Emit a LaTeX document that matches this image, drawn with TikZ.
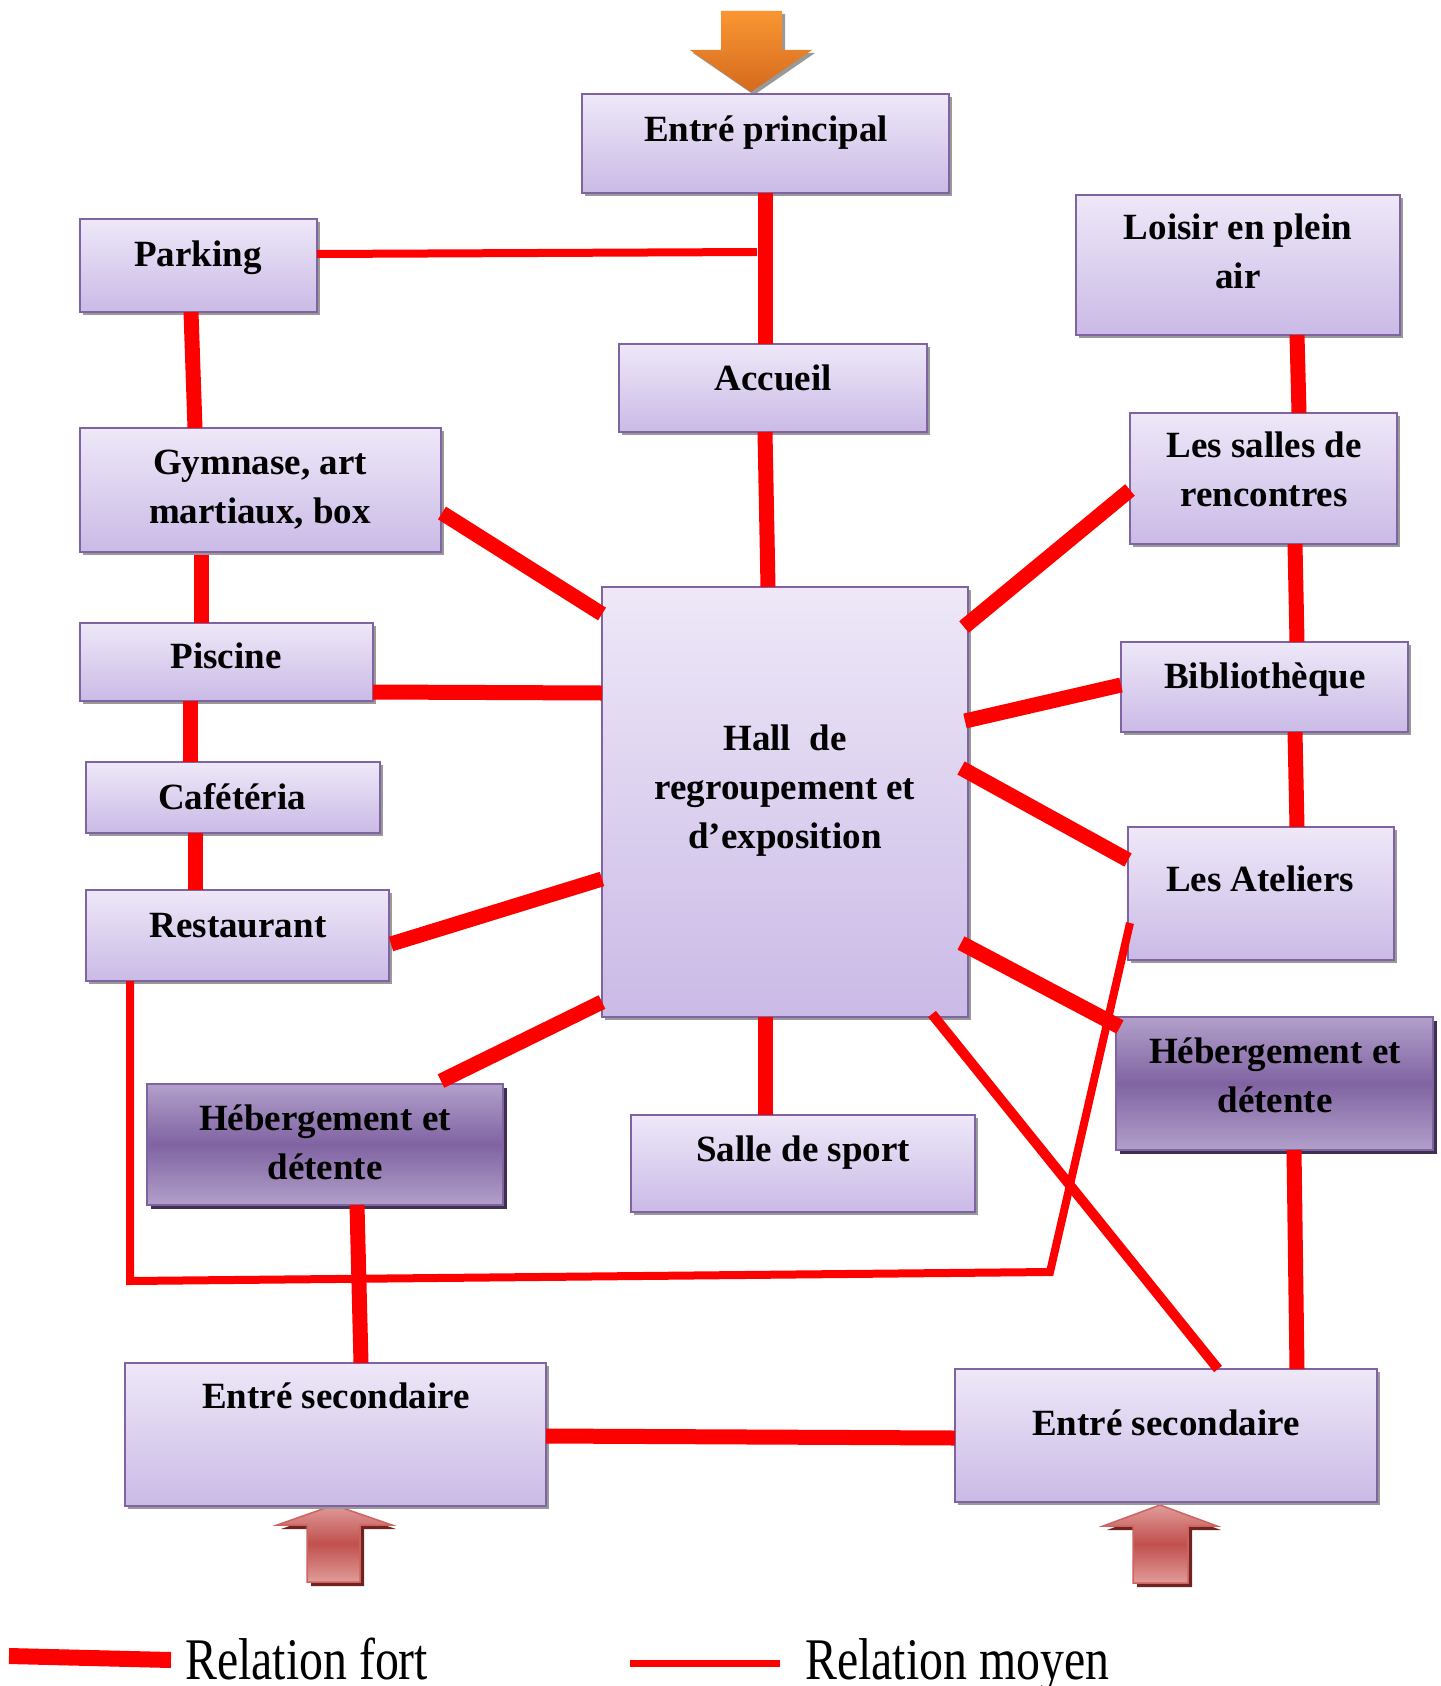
\documentclass[tikz,border=0pt]{standalone}
\usepackage{fontspec}
\usepackage{graphicx}
\setmainfont{Liberation Serif}
\usetikzlibrary{calc,shadows}

\definecolor{boxedge}{RGB}{128,100,162}
\definecolor{lilactop}{RGB}{238,232,248}
\definecolor{lilacbot}{RGB}{202,186,230}
\definecolor{plumlight}{RGB}{178,160,202}
\definecolor{plumdark}{RGB}{128,100,162}
\definecolor{plumshadow}{RGB}{64,49,82}
\definecolor{linkred}{RGB}{255,0,0}
\definecolor{orgtop}{RGB}{250,150,50}
\definecolor{orgbot}{RGB}{212,106,30}
\definecolor{arrlight}{RGB}{224,156,154}
\definecolor{arrmid}{RGB}{192,80,77}
\definecolor{arredge}{RGB}{208,98,95}
\definecolor{arrshadow}{RGB}{112,36,34}

\begin{document}
\begin{tikzpicture}[x=1pt,y=-1pt,
  lbox/.style={draw=boxedge, line width=2pt, top color=lilactop, bottom color=lilacbot,
    inner sep=0pt, outer sep=0pt, anchor=north west,
    drop shadow={shadow xshift=3pt, shadow yshift=-3pt, fill=black!40, opacity=1}},
  dbox/.style={draw=boxedge, line width=2pt, top color=plumlight, bottom color=plumlight,
    middle color=plumdark, inner sep=0pt, outer sep=0pt, anchor=north west,
    drop shadow={shadow xshift=4pt, shadow yshift=-4pt, fill=plumshadow, opacity=1}},
  lbl/.style={font=\fontsize{37}{49}\selectfont\bfseries, align=center, inner sep=0pt, anchor=north},
  legtxt/.style={font=\fontsize{59}{70}\selectfont, inner sep=0pt, anchor=base west},
  fort/.style={draw=linkred, line width=15pt},
  moyen/.style={draw=linkred, line width=8pt},
]
\useasboundingbox (0,0) rectangle (1440,1686);

% ---- arrows marking the entrances ----
\fill[black!40, shift={(3,3)}] (721,11) -- (782,11) -- (782,50) -- (812,50) -- (751,92) -- (690,50) -- (721,50) -- cycle;
\shade[top color=orgtop, bottom color=orgbot] (721,11) -- (782,11) -- (782,50) -- (812,50) -- (751,92) -- (690,50) -- (721,50) -- cycle;

\fill[arrshadow, shift={(4,4)}] (334,1505) -- (392,1525) -- (360,1525) -- (360,1582) -- (307,1582) -- (307,1525) -- (277,1525) -- cycle;
\shade[top color=arrlight, bottom color=arrlight, middle color=arrmid, draw=arredge, line width=1.5pt]
  (334,1505) -- (392,1525) -- (360,1525) -- (360,1582) -- (307,1582) -- (307,1525) -- (277,1525) -- cycle;

\fill[arrshadow, shift={(4,4)}] (1160,1505) -- (1217,1526) -- (1188,1526) -- (1188,1583) -- (1133,1583) -- (1133,1526) -- (1103,1526) -- cycle;
\shade[top color=arrlight, bottom color=arrlight, middle color=arrmid, draw=arredge, line width=1.5pt]
  (1160,1505) -- (1217,1526) -- (1188,1526) -- (1188,1583) -- (1133,1583) -- (1133,1526) -- (1103,1526) -- cycle;

% ---- boxes ----
\node[lbox, minimum width=367, minimum height=99]  (entree)   at (582,94)   {};
\node[lbox, minimum width=237, minimum height=93]  (parking)  at (80,219)   {};
\node[lbox, minimum width=308, minimum height=88]  (accueil)  at (619,344)  {};
\node[lbox, minimum width=324, minimum height=140] (loisir)   at (1076,195) {};
\node[lbox, minimum width=361, minimum height=124] (gym)      at (80,428)   {};
\node[lbox, minimum width=267, minimum height=131] (salles)   at (1130,413) {};
\node[lbox, minimum width=293, minimum height=78]  (piscine)  at (80,623)   {};
\node[lbox, minimum width=287, minimum height=90]  (biblio)   at (1121,642) {};
\node[lbox, minimum width=366, minimum height=430] (hall)     at (602,587)  {};
\node[lbox, minimum width=294, minimum height=71]  (cafe)     at (86,762)   {};
\node[lbox, minimum width=266, minimum height=133] (ateliers) at (1128,827) {};
\node[lbox, minimum width=303, minimum height=91]  (resto)    at (86,890)   {};
\node[dbox, minimum width=356, minimum height=121] (heba)     at (147,1084) {};
\node[dbox, minimum width=317, minimum height=133] (hebb)     at (1116,1017){};
\node[lbox, minimum width=344, minimum height=97]  (sport)    at (631,1115) {};
\node[lbox, minimum width=421, minimum height=143] (esa)      at (125,1363) {};
\node[lbox, minimum width=422, minimum height=133] (esb)      at (955,1369) {};

% ---- box labels ----
\node[lbl] (entree-t)   at (766,106.7)  {\strut Entré principal};
\node[lbl] (parking-t)  at (198,231.7)  {\strut Parking};
\node[lbl] (accueil-t)  at (773,355.7)  {\strut Accueil};
\node[lbl] (loisir-t)   at (1238,204.7) {\strut Loisir en plein\\air};
\node[lbl] (gym-t)      at (260,439.7)  {\strut Gymnase, art\\martiaux, box};
\node[lbl] (salles-t)   at (1264,422.7) {\strut Les salles de\\rencontres};
\node[lbl] (piscine-t)  at (226,633.7)  {\strut Piscine};
\node[lbl] (biblio-t)   at (1265,653.7) {\strut Bibliothèque};
\node[lbl] (hall-t)     at (785,715.7)  {\strut Hall~ de\\regroupement et\\d’exposition};
\node[lbl] (cafe-t)     at (232,774.7)  {\strut Cafétéria};
\node[lbl] (ateliers-t) at (1260,856.7) {\strut Les Ateliers};
\node[lbl] (resto-t)    at (238,902.7)  {\strut Restaurant};
\node[lbl] (heba-t)     at (325,1095.7) {\strut Hébergement et\\détente};
\node[lbl] (hebb-t)     at (1275,1028.7){\strut Hébergement et\\détente};
\node[lbl] (sport-t)    at (803,1126.7) {\strut Salle de sport};
\node[lbl] (esa-t)      at (336,1373.7) {\strut Entré secondaire};
\node[lbl] (esb-t)      at (1166,1400.7){\strut Entré secondaire};

% ---- strong relations ----
\draw[fort] ($(entree.south west)+(183,0)$) -- ($(accueil.north west)+(146,0)$);
\coordinate (pjoin) at ($(entree.south west)+(175,59)$);
\draw[fort] ($(parking.south west)+(111,0)$) -- ($(gym.north west)+(115,0)$);
\draw[fort] ($(accueil.south west)+(146,0)$) -- ($(hall.north west)+(166,0)$);
\draw[fort] ($(gym.north east)+(1,85)$) -- ($(hall.north west)+(0,27)$);
\draw[fort] ($(gym.south west)+(121,3)$) -- ($(piscine.north west)+(121,0)$);
\draw[fort] ($(piscine.north east)+(0,69)$) -- ($(hall.north west)+(0,106)$);
\draw[fort] ($(piscine.south west)+(110,0)$) -- ($(cafe.north west)+(104,0)$);
\draw[fort] ($(cafe.south west)+(109,0)$) -- ($(resto.north west)+(109,0)$);
\draw[fort] ($(resto.north east)+(2,54)$) -- ($(hall.north west)+(0,292)$);
\draw[fort] ($(heba.north west)+(294,-3)$) -- ($(hall.south west)+(0,-15)$);
\draw[fort] ($(hall.south west)+(163,0)$) -- ($(sport.north west)+(134,0)$);
\draw[fort] ($(heba.south west)+(210,0)$) -- ($(esa.north west)+(236,0)$);
\draw[fort] ($(esa.north east)+(0,73)$) -- ($(esb.north west)+(0,69)$);
\draw[fort] ($(hall.north east)+(-4,40)$) -- ($(salles.north west)+(0,77)$);
\draw[fort] ($(loisir.south west)+(221,0)$) -- ($(salles.north west)+(169,0)$);
\draw[fort] ($(salles.south west)+(165,0)$) -- ($(biblio.north west)+(176,0)$);
\draw[fort] ($(hall.north east)+(-3,134)$) -- ($(biblio.north west)+(0,43)$);
\draw[fort] ($(biblio.south west)+(174,0)$) -- ($(ateliers.north west)+(169,0)$);
\draw[fort] ($(hall.north east)+(-7,181)$) -- ($(ateliers.north west)+(0,33)$);
\draw[fort] ($(hall.north east)+(-7,356)$) -- ($(hebb.north west)+(4,10)$);
\draw[fort] ($(hebb.south west)+(178,0)$) -- ($(esb.north west)+(342,0)$);

% ---- medium relations ----
\draw[moyen] ($(parking.north east)+(0,35)$) -- (pjoin);
\draw[moyen, line width=10pt] ($(hall.south east)+(-36,-3)$) -- ($(esb.north west)+(263,0)$);
\coordinate (loopa) at (130,1281);
\coordinate (loopb) at (1050,1272);
\draw[moyen, line join=miter] ($(resto.south west)+(44,0)$) -- (loopa) -- (loopb) -- ($(ateliers.south west)+(2,-37)$);

% ---- legend ----
\coordinate (fa) at (9,1656);
\coordinate (fb) at (171,1660);
\coordinate (ma) at (630,1663.5);
\coordinate (mb) at (780,1663.5);
\draw[fort, line width=16pt] (fa) -- (fb);
\draw[moyen, line width=7pt] (ma) -- (mb);
\node[legtxt] (leg-fort)  at (185,1679) {\scalebox{0.81}[1]{Relation fort}};
\node[legtxt] (leg-moyen) at (805,1679) {\scalebox{0.81}[1]{Relation moyen}};
\end{tikzpicture}
\end{document}
